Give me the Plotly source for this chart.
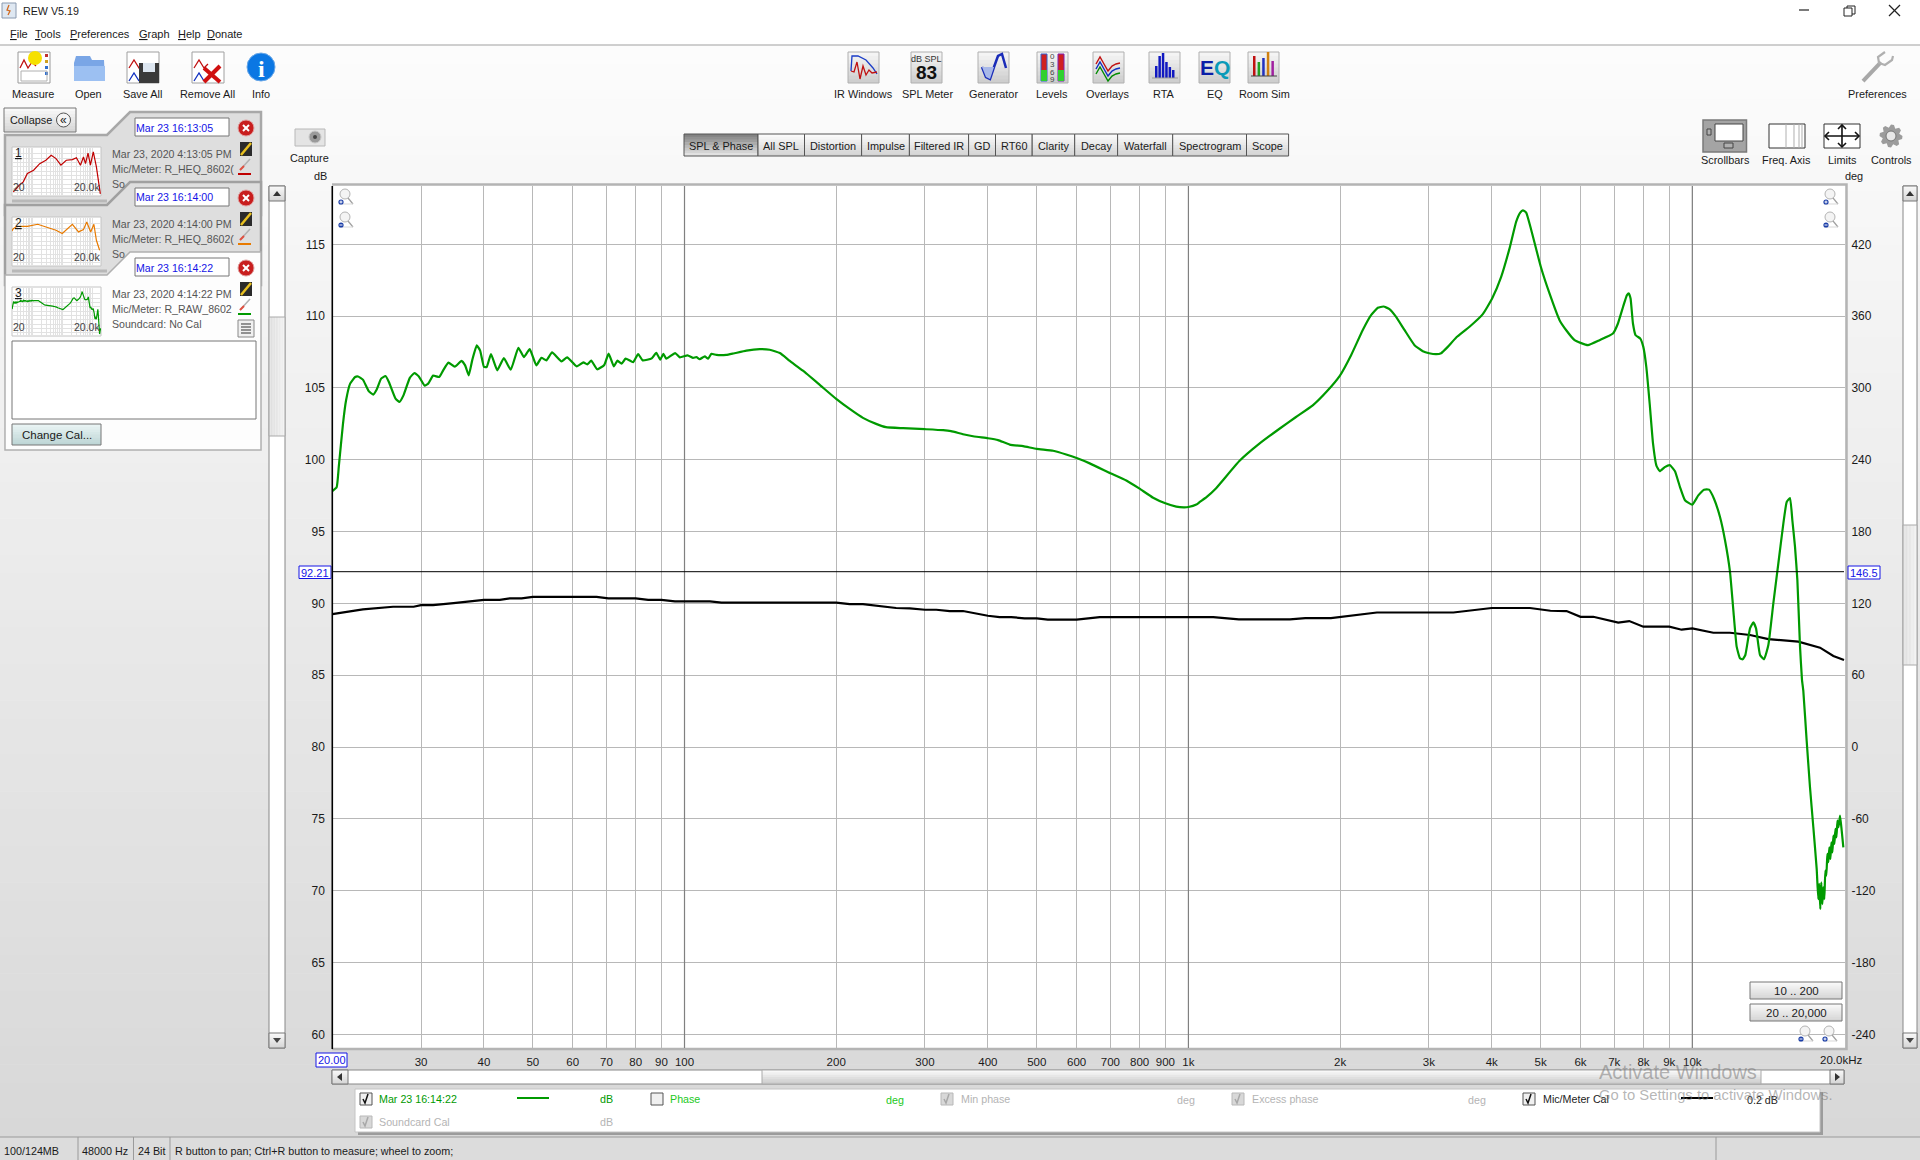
import math
import plotly.graph_objects as go

# main SPL curve, Hz and dB
spl_freq = [20, 20.4, 20.6, 21.0, 21.3, 21.7, 22.2, 22.5, 23.0, 23.6, 24.1, 24.5, 25.0, 25.5, 25.9, 26.7, 27.2, 27.7,
            28.5, 29.1, 29.7, 30.5, 31.0, 31.7, 32.6, 33.2, 34.0, 35.0, 36.1, 36.7, 37.3, 37.9, 38.7, 39.3, 40.0, 40.5,
            41.3, 42.5, 43.8, 45.2, 46.8, 48.0, 49.3, 50.8, 52.0, 53.2, 54.6, 57.0, 58.5, 61.1, 63.0, 64.1, 65.3, 67.1,
            69.3, 70.7, 72.4, 73.6, 75.0, 76.4, 79.1, 80.9, 82.6, 86.1, 87.9, 89.5, 90.8, 92.0, 95.8, 97.9, 101.4, 104,
            105.6, 107.2, 109.7, 111.4, 113.1, 115.7, 121, 125, 132.7, 141, 147.6, 154.6, 161.8, 171.8, 185.3, 200,
            212.7, 226, 240, 251, 271.5, 300, 326, 338, 357, 376, 400, 419, 442, 470, 500, 539, 572, 600, 637, 700, 753,
            800, 851, 900, 946, 979, 1000, 1037, 1052, 1086, 1135, 1262, 1383, 1516, 1635, 1765, 1891, 2000, 2103,
            2217, 2304, 2376, 2439, 2506, 2583, 2686, 2810, 2919, 3004, 3102, 3173, 3271, 3400, 3613, 3839, 4006, 4175,
            4338, 4472, 4555, 4610, 4681, 4790, 5004, 5207, 5452, 5621, 5840, 6000, 6206, 6544, 6958, 7119, 7305, 7418,
            7485, 7542, 7624, 7718, 7884, 7994, 8104, 8230, 8357, 8486, 8619, 8817, 9024, 9238, 9452, 9670, 10000,
            10278, 10549, 10792, 11041, 11349, 11611, 11879, 12061, 12246, 12434, 12587, 12742, 13017, 13217, 13380,
            13625, 13877, 14155, 14480, 14815, 15158, 15392, 15628, 15795, 15988, 16161, 16358, 16506, 16607, 16863,
            17121, 17385, 17654, 17783, 17865, 17947, 18030, 18113, 18197, 18281, 18365, 18450, 18535, 18620, 18706,
            18793, 18880, 18967, 19055, 19143, 19232, 19320, 19410, 19500, 19640, 19790, 19940]
spl_db = [97.82, 98.08, 99.5, 102.5, 104.14, 105.3, 105.76, 105.8, 105.58, 104.8, 104.54, 104.9, 105.65, 105.83, 105.42,
          104.26, 104.03, 104.5, 105.7, 106.04, 105.8, 105.16, 105.3, 105.86, 105.76, 106.23, 106.76, 106.48, 106.88,
          106.57, 105.88, 106.92, 107.96, 107.6, 106.46, 106.46, 107.36, 106.23, 107.08, 106.27, 107.8, 107.15, 107.7,
          106.57, 107.1, 106.92, 107.48, 106.85, 107.13, 106.5, 106.78, 106.64, 106.9, 106.3, 106.6, 107.4, 106.5,
          106.9, 106.69, 107.04, 106.8, 107.36, 106.92, 107.06, 107.45, 106.97, 107.38, 107.04, 107.43, 107.13, 107.27,
          107.1, 107.15, 107.0, 107.2, 107.04, 107.38, 107.3, 107.3, 107.4, 107.6, 107.7, 107.66, 107.43, 106.88, 106.2,
          105.23, 104.24, 103.54, 102.92, 102.5, 102.27, 102.2, 102.13, 102.06, 101.99, 101.78, 101.62, 101.5, 101.37,
          101.06, 100.95, 100.76, 100.63, 100.37, 100.12, 99.75, 99.07, 98.56, 97.99, 97.36, 96.97, 96.74, 96.69, 96.71,
          96.88, 97.05, 97.4, 98.02, 99.91, 101.12, 102.16, 102.98, 103.79, 104.84, 105.88, 107.28, 109.02, 110.07,
          110.58, 110.67, 110.49, 109.95, 109.02, 107.98, 107.56, 107.42, 107.35, 107.42, 107.86, 108.51, 109.26,
          110.14, 111.23, 112.74, 114.72, 116.58, 117.21, 117.37, 117.21, 116.0, 113.44, 111.58, 109.72, 109.02, 108.33,
          108.14, 107.98, 108.33, 108.79, 109.49, 110.77, 111.47, 111.58, 111.23, 109.49, 108.67, 108.44, 107.86, 106.47,
          103.9, 101.12, 99.6, 99.21, 99.49, 99.63, 99.2, 98.1, 97.18, 96.88, 97.52, 97.92, 97.92, 97.29, 96.02, 94.4,
          92.2, 89.54, 86.99, 86.18, 86.11, 86.41, 88.26, 88.68, 88.26, 86.41, 86.11, 87.11, 90.0, 92.78, 95.56, 97.06,
          97.34, 95.79, 93.94, 91.62, 86.99, 84.68, 83.91, 80.44, 77.2, 74.42, 71.5, 69.42, 70.47, 68.72, 70.58, 69.07,
          70.23, 69.42, 71.4, 71.05, 72.56, 71.98, 73.02, 72.21, 73.37, 72.67, 73.84, 73.26, 74.3, 73.72, 74.88, 74.42,
          75.23, 74.19, 73.02]

# Mic/Meter Cal curve
cal_freq = [20, 23.0, 26.4, 29, 30, 31.7, 34.8, 40, 43, 45, 47.5, 50, 66.9, 70.6, 80, 84.7, 90, 95.7, 112.3, 118.4,
            169.4, 200, 212.7, 226, 263, 280, 300, 316, 336, 357, 400, 422, 445, 473, 500, 526, 600, 667, 1120, 1259,
            1590, 1706, 1918, 2366, 3356, 3998, 4762, 5229, 5629, 6000, 6360, 7021, 7128, 7497, 7993, 9000, 9524, 10000,
            11008, 11879, 13017, 14155, 16233, 17925, 19050, 20000]
cal_db = [89.26, 89.58, 89.77, 89.77, 89.88, 89.88, 90.02, 90.25, 90.25, 90.35, 90.35, 90.46, 90.46, 90.35, 90.35, 90.25,
          90.25, 90.14, 90.14, 90.05, 90.05, 90.05, 89.95, 89.95, 89.68, 89.65, 89.56, 89.56, 89.47, 89.47, 89.14, 89.05,
          89.05, 88.96, 88.96, 88.87, 88.87, 89.05, 89.05, 88.89, 88.89, 88.98, 88.98, 89.37, 89.37, 89.68, 89.68, 89.49,
          89.47, 89.07, 89.07, 88.73, 88.66, 88.77, 88.38, 88.38, 88.17, 88.26, 87.96, 87.96, 87.8, 87.52, 87.34, 86.92,
          86.34, 86.06]

cursor_deg = 146.5
cursor_db_text = "92.21"
cursor_freq_text = "20.00"

# small curves in the measurement panel
thumb1_freq = [22, 25.7, 35, 48, 66, 107, 172, 277, 419, 609, 890, 1350, 2170, 2970, 4060, 5130, 6000, 7300, 8800, 11000,
               14000, 19000]
thumb1_db = [71.3, 73.2, 79, 82.8, 92.4, 96.2, 103.8, 107.7, 113.4, 109.6, 102, 107.7, 108.4, 110.7, 102, 111.5, 103.9,
             116, 102, 117.3, 100, 69]
thumb2_freq = [20, 22, 30, 66, 147, 277, 609, 988, 2170, 3500, 5130, 6600, 9000, 11500, 14000, 18000]
thumb2_db = [107, 109.6, 112.3, 112.3, 114.6, 111.5, 107.7, 103.9, 114.6, 105.8, 108.4, 117.3, 105.8, 114.6, 96.2, 84.7]

freq_ticks = [30, 40, 50, 60, 70, 80, 90, 100, 200, 300, 400, 500, 600, 700, 800, 900, 1000, 2000, 3000, 4000, 5000,
              6000, 7000, 8000, 9000, 10000]
freq_labels = ["30", "40", "50", "60", "70", "80", "90", "100", "200", "300", "400", "500", "600", "700", "800", "900",
               "1k", "2k", "3k", "4k", "5k", "6k", "7k", "8k", "9k", "10k"]
decades = [100, 1000, 10000]
db_ticks = [60, 65, 70, 75, 80, 85, 90, 95, 100, 105, 110, 115]
deg_ticks = [-240, -180, -120, -60, 0, 60, 120, 180, 240, 300, 360, 420]
tab_names = ["SPL & Phase", "All SPL", "Distortion", "Impulse", "Filtered IR", "GD", "RT60", "Clarity", "Decay",
             "Waterfall", "Spectrogram", "Scope"]
tab_edges = [684, 758, 804.5, 861.6, 909.4, 968.6, 995.5, 1032.2, 1074.7, 1117.6, 1172.7, 1246.5, 1288.6]

W, H = 1920, 1160
FONT = "Liberation Sans"
GREEN = "#009a00"
DB_RANGE = [59.05, 119.06]
shapes = []
notes = []


def px(x):
    return x / W


def py(y):
    return 1 - y / H


def rect(x0, y0, x1, y1, fill=None, line=None, lw=1, layer="below"):
    shapes.append(dict(type="rect", xref="paper", yref="paper", x0=px(x0), x1=px(x1), y0=py(y0), y1=py(y1),
                       fillcolor=fill or "rgba(0,0,0,0)", layer=layer,
                       line=dict(color=line or "rgba(0,0,0,0)", width=lw if line else 0)))


def poly(pts, color=None, w=1, fill=None, close=False, layer="below"):
    d = "M" + " L".join(f"{px(x):.5f},{py(y):.5f}" for x, y in pts) + (" Z" if close else "")
    shapes.append(dict(type="path", xref="paper", yref="paper", path=d, layer=layer,
                       fillcolor=fill or "rgba(0,0,0,0)",
                       line=dict(color=color or "rgba(0,0,0,0)", width=w if color else 0)))


def circle(cx, cy, r, fill=None, line=None, lw=1, layer="below"):
    shapes.append(dict(type="circle", xref="paper", yref="paper", x0=px(cx - r), x1=px(cx + r), y0=py(cy + r),
                       y1=py(cy - r), fillcolor=fill or "rgba(0,0,0,0)", layer=layer,
                       line=dict(color=line or "rgba(0,0,0,0)", width=lw if line else 0)))


def grad(x0, y0, x1, y1, top, bot, n=8, layer="below"):
    for i in range(n):
        t = i / max(n - 1, 1)
        c = [round(a + (b - a) * t) for a, b in zip(top, bot)]
        ya = y0 + (y1 - y0) * i / n
        yb = y0 + (y1 - y0) * (i + 1) / n
        rect(x0, ya, x1, min(yb + 0.6, y1), fill=f"rgb({c[0]},{c[1]},{c[2]})", layer=layer)


def text(x, y, s, size=10.9, color="#1a1a1a", anchor="left", family=FONT):
    notes.append(dict(xref="paper", yref="paper", x=px(x), y=py(y), text=s, showarrow=False, xanchor=anchor,
                      yanchor="middle", borderpad=0, borderwidth=0,
                      font=dict(family=family, size=size, color=color)))


def push(x0, y0, x1, y1, label=None, layer="below", top=(248, 248, 248), bot=(214, 214, 214)):
    grad(x0, y0, x1, y1, top, bot, layer=layer)
    rect(x0, y0, x1, y1, line="#777777", lw=1, layer=layer)
    if label:
        text((x0 + x1) / 2, (y0 + y1) / 2, label, size=11.5, anchor="center")


def icon_box(x0):
    grad(x0, 52, x0 + 31, 83, (244, 244, 244), (206, 206, 206))
    rect(x0, 52, x0 + 31, 83, line="#b0b0b0")


def magnifier(cx, cy, minus, layer="above"):
    circle(cx, cy - 3, 5, fill="#f4f4f4", line="#b4b4b4", layer=layer)
    poly([(cx + 3, cy + 1), (cx + 8, cy + 7)], "#a0a0a0", 1.2, layer=layer)
    poly([(cx - 6, cy + 7), (cx + 8, cy + 7)], "#d8d8d8", 1, layer=layer)
    circle(cx - 4, cy + 5, 2.6, fill="#1c3fa8", layer=layer)
    poly([(cx - 5.5, cy + 5), (cx - 2.5, cy + 5)], "white", 1, layer=layer)
    if not minus:
        poly([(cx - 4, cy + 3.5), (cx - 4, cy + 6.5)], "white", 1, layer=layer)


def checkbox(x, y, ticked=True, active=True):
    rect(x, y - 6, x + 12, y + 6, fill="#f0f0f0" if active else "#d8d8d8", line="#555555" if active else "#b8b8b8")
    if ticked:
        poly([(x + 3, y), (x + 5, y + 4), (x + 8, y - 5)], "#111111" if active else "#a8a8a8", 1.5)


def sidebar_icons(y_del, y_edit, y_brush, color):
    circle(246, y_del, 8, fill="#c81e1e", line="#e0a0a0", lw=1)
    poly([(243, y_del - 3), (249, y_del + 3)], "white", 2)
    poly([(249, y_del - 3), (243, y_del + 3)], "white", 2)
    rect(240, y_edit - 7, 252, y_edit + 7, fill="#2a2a2a")
    poly([(241, y_edit + 6), (251, y_edit - 6)], "#e8c020", 2.5)
    poly([(240, y_brush + 2), (250, y_brush - 9)], "#b0b0b0", 1.5)
    poly([(240, y_brush + 2), (244, y_brush - 2)], "#e05040", 2)
    poly([(238, y_brush + 6), (251, y_brush + 6)], color, 2)


# window background
grad(0, 45, W, 1137, (252, 252, 252), (216, 216, 216), n=60)
poly([(0, 45), (W, 45)], "#a0a0a0", 1.2)
rect(0, 1137, W, H, fill="#dcdcdc")
poly([(0, 1137), (W, 1137)], "#9a9a9a", 1.2)
for sx in [78, 133.5, 170, 1716]:
    poly([(sx, 1137), (sx, H)], "#9a9a9a", 1)

# title bar and menus
rect(2, 3, 16, 18, fill="#dfe8f2", line="#8a9ab0")
poly([(9, 5), (7, 10), (10, 11), (8, 15)], "#d06a20", 1.3)
text(23, 11, "REW V5.19", size=10.7)
for mx, label in [(10, "<u>F</u>ile"), (35, "<u>T</u>ools"), (70, "<u>P</u>references"), (139, "<u>G</u>raph"),
                  (178, "<u>H</u>elp"), (207, "<u>D</u>onate")]:
    text(mx, 34, label, size=11)
poly([(1799, 10), (1809, 10)], "#222222", 1.2)
rect(1847, 6, 1855, 14, line="#222222")
rect(1844, 8, 1852, 16, fill="white", line="#222222")
poly([(1889, 5), (1900, 16)], "#222222", 1.2)
poly([(1900, 5), (1889, 16)], "#222222", 1.2)

# left toolbar
for cx, label in [(33, "Measure"), (88, "Open"), (142, "Save All"), (207, "Remove All"), (261, "Info")]:
    text(cx, 94, label, anchor="center")
rect(18, 52, 50, 83, fill="white", line="#9a9a9a")
poly([(20, 68), (24, 60), (28, 68), (32, 62), (36, 66)], "#c01010", 1.3)
for i in range(4):
    rect(45, 54 + i * 6, 48, 57 + i * 6, fill=["#c03030", "#d0a020", "#3070d0", "#3070d0"][i])
rect(21, 71, 47, 81, line="#b0b0b0")
circle(35, 58, 7, fill="#f6e000")
poly([(74, 63), (76, 56), (90, 56), (92, 60), (104, 60), (105, 81), (74, 81)], fill="#7aa6e6", close=True)
rect(74, 66, 105, 81, fill="#9cc0f2")
rect(127, 52, 159, 83, fill="white", line="#a0a0a0")
poly([(129, 68), (134, 60), (139, 68), (143, 64)], "#c01010", 1.3)
poly([(129, 81), (134, 73), (139, 81)], "#1030c0", 1.3)
rect(139, 63, 159, 83, fill="#3a3a3a")
rect(143, 63, 155, 72, fill="#dde6f0")
rect(192, 52, 224, 83, fill="white", line="#a0a0a0")
poly([(194, 68), (199, 60), (204, 68), (208, 64)], "#c01010", 1.3)
poly([(194, 81), (199, 73), (204, 81)], "#1030c0", 1.3)
poly([(204, 68), (220, 82)], "#d01010", 4)
poly([(220, 66), (204, 82)], "#d01010", 4)
circle(261, 67, 14, fill="#0b77e3", line="#6aa8e8")
text(261, 69, "<b>i</b>", size=24, color="white", anchor="center", family="Liberation Serif")

# middle toolbar
for cx, label in [(863, "IR Windows"), (927, "SPL Meter"), (993, "Generator"), (1052, "Levels"), (1108, "Overlays"),
                  (1164, "RTA"), (1215, "EQ"), (1264, "Room Sim"), (1877, "Preferences")]:
    text(cx, 94, label, anchor="center")
for bx in [848, 911, 978, 1037, 1093, 1149, 1199, 1248]:
    icon_box(bx)
poly([(851, 71), (852, 56), (858, 56), (866, 60), (873, 68), (877, 74)], "#1a3cc8", 1.3)
poly([(851, 71), (854, 72), (857, 62), (860, 79), (863, 66), (866, 75), (869, 70), (872, 73), (877, 72)], "#c01010", 1.3)
text(926.5, 58.5, "dB SPL", size=9, anchor="center", color="#333333")
text(926.5, 73, "<b>83</b>", size=19, anchor="center", color="#111111")
poly([(982, 67), (986, 77), (990, 79), (994, 67), (998, 56), (1002, 54), (1006, 68)], "#1a2cb8", 2.5)
poly([(982, 67), (986, 77), (990, 79), (994, 67)], fill="#a8b8e8", close=True)
rect(1041, 54, 1047, 81, fill="#d02020", line="#3060d0")
rect(1058, 54, 1064, 81, fill="#d02020", line="#8020b0")
rect(1041, 70, 1047, 81, fill="#30d030")
rect(1058, 70, 1064, 81, fill="#30d030")
for i, d in enumerate(["0", "3", "6", "9"]):
    text(1052.5, 57 + i * 7.5, d, size=8, anchor="center", color="#444444")
for dy, col in [(0, "#c01010"), (5, "#1030c0"), (10, "#008a00")]:
    poly([(1096, 64 + dy), (1100, 57 + dy), (1104, 64 + dy), (1108, 71 + dy), (1112, 66 + dy), (1116, 64 + dy),
          (1120, 63 + dy)], col, 1.4)
for i, hh in enumerate([12, 22, 25, 16, 11, 8]):
    rect(1155 + i * 3.4, 78 - hh, 1157.5 + i * 3.4, 78, fill="#1018c0")
poly([(1152, 78), (1178, 78)], "#9a9a9a", 1)
text(1215, 67, '<b><span style="color:#0a1ea8">E</span><span style="color:#0a9ab8">Q</span></b>', size=21,
     anchor="center")
for i, (hh, col) in enumerate([(20, "#c01010"), (14, "#20a020"), (18, "#2030c0"), (24, "#d08010"), (15, "#a020a0")]):
    rect(1253 + i * 4.6, 76 - hh, 1255.5 + i * 4.6, 76, fill=col)
poly([(1251, 76), (1277, 76)], "#444444", 1)

# wrench
poly([(1863, 81), (1881, 62)], "#a8a8a8", 4)
poly([(1885, 52), (1878, 57), (1879, 63), (1885, 65), (1892, 60), (1893, 56)], "#b0b0b0", 2.2)

# tabs
for i, label in enumerate(tab_names):
    a, b = tab_edges[i], tab_edges[i + 1]
    if i == 0:
        grad(a, 134, b, 156, (130, 130, 130), (226, 226, 226))
    else:
        grad(a, 134, b, 156, (250, 250, 250), (212, 212, 212))
    rect(a, 134, b, 156, line="#555555")
    text((a + b) / 2, 146, label, size=10.9, anchor="center")

# capture
rect(295, 129, 325, 146, fill="#e4e4e4", line="#b8b8b8")
circle(315, 137, 6, fill="#9a9a9a", line="#c8c8c8")
circle(315, 137, 2, fill="#444444")
text(309, 158, "Capture", anchor="center")
text(320, 176, "dB", anchor="center")
text(1854, 176, "deg", anchor="center")

# right icon strip
rect(1703, 120, 1746.5, 152, fill="#a4a4a4", line="#7a7a7a", lw=1.5)
rect(1715, 124, 1743, 141, fill="white", line="#444444")
rect(1724, 143, 1733, 148, fill="#b0b0b0", line="#444444")
rect(1707, 129, 1711, 135, fill="#b0b0b0", line="#444444")
rect(1769, 124, 1805, 148, fill="white", line="#333333")
for fx in [1786, 1794, 1799, 1802]:
    poly([(fx, 124), (fx, 148)], "#b0b0b0", 1)
rect(1824, 124, 1860, 148, fill="white", line="#333333")
poly([(1826, 136), (1858, 136)], "#111111", 1.6)
poly([(1842, 126), (1842, 146)], "#111111", 1.6)
poly([(1829, 132), (1825, 136), (1829, 140)], "#111111", 1.6)
poly([(1855, 132), (1859, 136), (1855, 140)], "#111111", 1.6)
poly([(1838, 129), (1842, 125), (1846, 129)], "#111111", 1.6)
poly([(1838, 143), (1842, 147), (1846, 143)], "#111111", 1.6)
gear = []
for i in range(24):
    r = 11.5 if i % 3 != 2 else 8.5
    gear.append((1891 + r * math.cos(i * math.pi / 12), 136 + r * math.sin(i * math.pi / 12)))
poly(gear, fill="#9c9c9c", close=True)
circle(1891, 136, 5, fill="#e8e8e8", line="#777777")
for cx, label in [(1725, "Scrollbars"), (1786, "Freq. Axis"), (1842, "Limits"), (1891, "Controls")]:
    text(cx, 160, label, anchor="center")

# collapse button
push(4, 108, 76, 132)
text(10, 120, "Collapse")
circle(63.5, 120, 7, fill="#f4f4f4", line="#555555")
text(63.5, 119.5, "«", size=12, anchor="center")

# measurement panels
PANEL = "#dedede"
poly([(5, 135), (107, 135), (130, 112), (261, 112), (261, 215), (5, 215)], "#a8a8a8", 2.5, PANEL, True)
poly([(5, 205), (107, 205), (130, 182), (261, 182), (261, 285), (5, 285)], "#a0a0a0", 2.5, PANEL, True)
poly([(12, 201), (107, 201)], "#b8b8b8", 3)
poly([(12, 271), (107, 271)], "#b8b8b8", 3)
poly([(5, 275), (107, 275), (130, 252), (261, 252), (261, 450), (5, 450)], "#b0b0b0", 1.5, "#fdfdfd", True)
for i, (date_text, long_text, mic, col) in enumerate([
        ("Mar 23 16:13:05", "Mar 23, 2020 4:13:05 PM", "Mic/Meter: R_HEQ_8602(", "#c00000"),
        ("Mar 23 16:14:00", "Mar 23, 2020 4:14:00 PM", "Mic/Meter: R_HEQ_8602(", "#e87a00"),
        ("Mar 23 16:14:22", "Mar 23, 2020 4:14:22 PM", "Mic/Meter: R_RAW_8602", GREEN)]):
    dy = i * 70
    rect(135, 118 + dy, 229, 136 + dy, fill="white", line="#777777")
    text(136, 127.5 + dy, date_text, size=10.6, color="#1414e6")
    sidebar_icons(128 + dy, 149 + dy, 168 + dy, col)
    rect(12, 147 + dy, 101, 196 + dy, fill="white", line="#c4c4c4")
    text(112, 154 + dy, long_text, size=10.6, color="#555555")
    text(112, 169 + dy, mic, size=10.6, color="#555555")
    text(112, 184 + dy, "Soundcard: No Cal" if i == 2 else "So", size=10.6, color="#555555")
    text(15, 153 + dy, f"<u>{i + 1}</u>", size=12)
    text(13, 187 + dy, "20", size=10.5, color="#444444")
    text(100, 187 + dy, "20.0k", size=10.5, color="#444444", anchor="right")
rect(238, 320, 254, 337, fill="#f0f0f0", line="#888888")
for ly in [324, 327, 330, 333]:
    poly([(241, ly), (251, ly)], "#333333", 1)
rect(12, 341, 256, 419, fill="white", line="#777777")
push(12, 424, 101, 445, "Change Cal...", top=(232, 243, 243), bot=(190, 214, 214))

# vertical scrollbars
for x0, x1, y0, y1 in [(269, 285, 317, 436), (1903, 1917, 525, 665)]:
    rect(x0, 186, x1, 1048, fill="white", line="#888888")
    for j in range(10):
        shade = 222 + j * 2
        rect(x0 + (x1 - x0) * j / 10, y0, x0 + (x1 - x0) * (j + 1) / 10, y1, fill=f"rgb({shade},{shade},{shade})")
    rect(x0, y0, x1, y1, line="#aaaaaa")
    push(x0, 186, x1, 201)
    push(x0, 1033, x1, 1048)
    xm = (x0 + x1) / 2
    poly([(xm - 4, 196), (xm + 4, 196), (xm, 191)], fill="#333333", close=True)
    poly([(xm - 4, 1038), (xm + 4, 1038), (xm, 1043)], fill="#444444", close=True)

# graph frame, blue cursor boxes
rect(332, 186, 1845, 1048, fill="white")
poly([(332, 184.5), (1846.5, 184.5), (1846.5, 1049), (332, 1049)], "#b4b4b4", 2.5)
poly([(332.3, 186), (332.3, 1049)], "#000000", 1.6, layer="above")
rect(299, 566, 331, 578.5, fill="white", line="#1414e6")
text(315, 572.5, cursor_db_text, size=11, color="#1414e6", anchor="center")
rect(1848, 566, 1880, 579, fill="white", line="#1414e6")
text(1864, 572.5, f"{cursor_deg}", size=11, color="#1414e6", anchor="center")
rect(316, 1053, 347, 1067, fill="white", line="#1414e6")
text(331.5, 1060, cursor_freq_text, size=11, color="#1414e6", anchor="center")
text(1820, 1060, "20.0kHz", size=11.5)

for mx, my, is_minus in [(345, 197, False), (345, 220, True), (1830, 197, False), (1830, 220, True),
                         (1805, 1034, True), (1829, 1034, False)]:
    magnifier(mx, my, is_minus)
push(1750, 982, 1842, 999, "10 .. 200", layer="above")
push(1750, 1004, 1842, 1021, "20 .. 20,000", layer="above")

# horizontal scrollbar
rect(332, 1070, 1844, 1084, fill="white", line="#888888")
grad(762, 1070, 1761, 1084, (248, 248, 248), (206, 206, 206), n=6)
rect(762, 1070, 1761, 1084, line="#aaaaaa")
push(332, 1070, 348, 1084)
push(1830, 1070, 1844, 1084)
poly([(342, 1073), (342, 1081), (337, 1077)], fill="#333333", close=True)
poly([(1835, 1073), (1835, 1081), (1840, 1077)], fill="#333333", close=True)

# legend strip
rect(358, 1092, 1823, 1135, fill="#9c9c9c")
rect(355, 1089, 1820, 1132, fill="white", line="#c4c4c4")
LIME = "#22c922"
GREY = "#b4b4b4"
checkbox(360, 1099)
text(379, 1099, "Mar 23 16:14:22", size=10.7, color=GREEN)
poly([(517, 1098), (549, 1098)], GREEN, 2)
text(606, 1099, "dB", size=10.7, color=GREEN, anchor="center")
checkbox(651, 1099, ticked=False)
text(670, 1099, "Phase", size=10.7, color=LIME)
text(886, 1099.5, "deg", size=10.7, color=LIME)
checkbox(941, 1099, active=False)
text(961, 1099, "Min phase", size=10.7, color=GREY)
text(1177, 1099.5, "deg", size=10.7, color=GREY)
checkbox(1232, 1099, active=False)
text(1252, 1099, "Excess phase", size=10.7, color=GREY)
text(1468, 1099.5, "deg", size=10.7, color=GREY)
checkbox(1523, 1099)
text(1543, 1099, "Mic/Meter Cal", size=10.7, color="#222222")
poly([(1681, 1098), (1713, 1098)], "#000000", 2)
text(1747, 1099.5, "0.2 dB", size=10.7, color="#222222")
checkbox(360, 1122, active=False)
text(379, 1122, "Soundcard Cal", size=10.7, color=GREY)
text(606, 1122, "dB", size=10.7, color=GREY, anchor="center")

# status bar
for sx, label in [(4, "100/124MB"), (82, "48000 Hz"), (138, "24 Bit"),
                  (175, "R button to pan; Ctrl+R button to measure; wheel to zoom;")]:
    text(sx, 1150.5, label, size=10.75)

# watermark
text(1599, 1072, "Activate Windows", size=20, color="rgba(120,120,120,0.55)")
text(1599, 1095, "Go to Settings to activate Windows.", size=14.8, color="rgba(120,120,120,0.55)")

fig = go.Figure()

# decade lines darker than the rest of the grid
for d in decades:
    fig.add_trace(go.Scatter(x=[d, d], y=DB_RANGE, mode="lines", line=dict(color="#808080", width=1.2)))

fig.add_trace(go.Scatter(x=cal_freq, y=cal_db, mode="lines", line=dict(color="black", width=2.2)))
fig.add_trace(go.Scatter(x=spl_freq, y=spl_db, mode="lines", line=dict(color=GREEN, width=2.2, shape="spline",
                                                                       smoothing=0.4)))
fig.add_trace(go.Scatter(x=[20, 20000], y=[cursor_deg, cursor_deg], yaxis="y2", mode="lines",
                         line=dict(color="black", width=1)))

# panel thumbnails, each one a tiny log plot
thumb_curves = [(thumb1_freq, thumb1_db, "#c00000", 147), (thumb2_freq, thumb2_db, "#e87a00", 217),
                (spl_freq, spl_db, GREEN, 287)]
axes = {}
for i, (tx, ty, col, top) in enumerate(thumb_curves):
    n = i + 3
    fig.add_trace(go.Scatter(x=tx, y=ty, xaxis=f"x{n}", yaxis=f"y{n}", mode="lines", line=dict(color=col, width=1.2)))
    axes[f"xaxis{n}"] = dict(type="log", domain=[px(12), px(101)], range=[1.30103, 4.30103], anchor=f"y{n}",
                             tickvals=freq_ticks, showticklabels=False, ticks="", gridcolor="#e2e2e2", gridwidth=1,
                             zeroline=False, showline=False)
    axes[f"yaxis{n}"] = dict(domain=[py(top + 49), py(top)], range=[66.5, 123], anchor=f"x{n}", tickvals=db_ticks,
                             showticklabels=False, ticks="", gridcolor="#e2e2e2", gridwidth=1, zeroline=False,
                             showline=False)

fig.update_layout(
    width=W, height=H, autosize=False, margin=dict(l=0, r=0, t=0, b=0), showlegend=False, hovermode=False,
    paper_bgcolor="white", plot_bgcolor="rgba(0,0,0,0)", shapes=shapes, annotations=notes,
    font=dict(family=FONT, size=12, color="#1a1a1a"),
    xaxis=dict(type="log", domain=[px(332.3), px(1845)], range=[1.30103, 4.303], tickmode="array", tickvals=freq_ticks,
               ticktext=freq_labels, ticks="outside", ticklen=3, tickcolor="rgba(0,0,0,0)", showgrid=True,
               gridcolor="#b8b8b8", gridwidth=1.2, zeroline=False, showline=False, anchor="y",
               tickfont=dict(size=11.5)),
    yaxis=dict(domain=[py(1048), py(186)], range=DB_RANGE, tickmode="array", tickvals=db_ticks,
               ticktext=[str(t) for t in db_ticks], ticks="outside", ticklen=4, tickcolor="rgba(0,0,0,0)",
               showgrid=True, gridcolor="#b8b8b8", gridwidth=1.2, zeroline=False, showline=False, anchor="x"),
    yaxis2=dict(domain=[py(1048), py(186)], range=[-251.4, 468.72], overlaying="y", side="right", tickmode="array",
                tickvals=deg_ticks, ticktext=[str(t) for t in deg_ticks], ticks="outside", ticklen=3,
                tickcolor="rgba(0,0,0,0)", showgrid=False, zeroline=False, showline=False, anchor="x"),
    **axes,
)

fig.write_html("out.html", config=dict(displayModeBar=False),
               post_script="document.body.style.margin='0';document.body.style.overflow='hidden';")
